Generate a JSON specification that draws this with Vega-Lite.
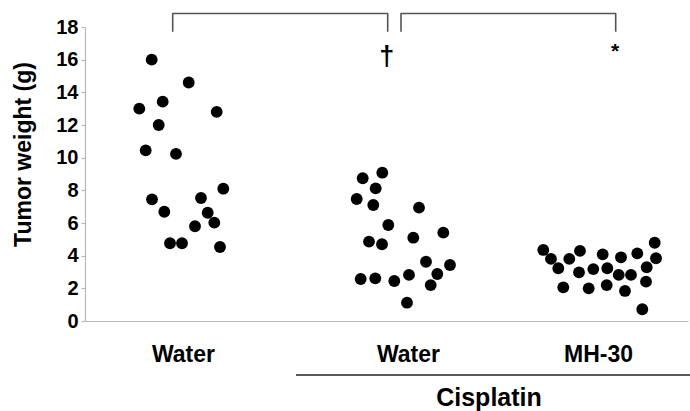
{
  "$schema": "https://vega.github.io/schema/vega-lite/v6.json",
  "width": 603,
  "height": 294,
  "autosize": {"type": "none"},
  "padding": {"left": 85, "top": 27, "right": 2, "bottom": 90},
  "background": "white",
  "config": {
    "view": {"stroke": null},
    "font": "Liberation Sans",
    "axis": {"grid": false, "labelOverlap": false, "labelFlush": false},
    "axisY": {"labelOverlap": false}
  },
  "datasets": {
    "points": [
      {"group": "Water", "x": 151.7, "weight": 16.0},
      {"group": "Water", "x": 188.7, "weight": 14.6},
      {"group": "Water", "x": 162.7, "weight": 13.43},
      {"group": "Water", "x": 139.3, "weight": 13.0},
      {"group": "Water", "x": 216.7, "weight": 12.8},
      {"group": "Water", "x": 158.7, "weight": 12.0},
      {"group": "Water", "x": 145.7, "weight": 10.45},
      {"group": "Water", "x": 176.0, "weight": 10.23},
      {"group": "Water", "x": 223.3, "weight": 8.1},
      {"group": "Water", "x": 152.0, "weight": 7.45},
      {"group": "Water", "x": 201.0, "weight": 7.53},
      {"group": "Water", "x": 164.3, "weight": 6.69},
      {"group": "Water", "x": 207.7, "weight": 6.63},
      {"group": "Water", "x": 214.3, "weight": 6.02},
      {"group": "Water", "x": 195.0, "weight": 5.8},
      {"group": "Water", "x": 170.0, "weight": 4.76},
      {"group": "Water", "x": 182.0, "weight": 4.76},
      {"group": "Water", "x": 220.0, "weight": 4.53},
      {"group": "Cisplatin + Water", "x": 362.7, "weight": 8.74},
      {"group": "Cisplatin + Water", "x": 382.3, "weight": 9.08},
      {"group": "Cisplatin + Water", "x": 375.7, "weight": 8.12},
      {"group": "Cisplatin + Water", "x": 356.7, "weight": 7.47},
      {"group": "Cisplatin + Water", "x": 373.3, "weight": 7.1},
      {"group": "Cisplatin + Water", "x": 419.0, "weight": 6.94},
      {"group": "Cisplatin + Water", "x": 388.3, "weight": 5.88},
      {"group": "Cisplatin + Water", "x": 443.3, "weight": 5.41},
      {"group": "Cisplatin + Water", "x": 369.0, "weight": 4.86},
      {"group": "Cisplatin + Water", "x": 382.0, "weight": 4.7},
      {"group": "Cisplatin + Water", "x": 413.3, "weight": 5.1},
      {"group": "Cisplatin + Water", "x": 426.0, "weight": 3.63},
      {"group": "Cisplatin + Water", "x": 450.0, "weight": 3.43},
      {"group": "Cisplatin + Water", "x": 437.3, "weight": 2.88},
      {"group": "Cisplatin + Water", "x": 409.0, "weight": 2.82},
      {"group": "Cisplatin + Water", "x": 360.7, "weight": 2.57},
      {"group": "Cisplatin + Water", "x": 375.3, "weight": 2.61},
      {"group": "Cisplatin + Water", "x": 394.3, "weight": 2.45},
      {"group": "Cisplatin + Water", "x": 430.7, "weight": 2.2},
      {"group": "Cisplatin + Water", "x": 407.0, "weight": 1.12},
      {"group": "Cisplatin + MH-30", "x": 543.3, "weight": 4.35},
      {"group": "Cisplatin + MH-30", "x": 551.0, "weight": 3.8},
      {"group": "Cisplatin + MH-30", "x": 558.3, "weight": 3.23},
      {"group": "Cisplatin + MH-30", "x": 569.3, "weight": 3.8},
      {"group": "Cisplatin + MH-30", "x": 580.0, "weight": 4.29},
      {"group": "Cisplatin + MH-30", "x": 563.3, "weight": 2.06},
      {"group": "Cisplatin + MH-30", "x": 579.0, "weight": 2.98},
      {"group": "Cisplatin + MH-30", "x": 593.3, "weight": 3.18},
      {"group": "Cisplatin + MH-30", "x": 602.7, "weight": 4.08},
      {"group": "Cisplatin + MH-30", "x": 588.7, "weight": 2.0},
      {"group": "Cisplatin + MH-30", "x": 607.3, "weight": 3.23},
      {"group": "Cisplatin + MH-30", "x": 606.7, "weight": 2.2},
      {"group": "Cisplatin + MH-30", "x": 621.0, "weight": 3.9},
      {"group": "Cisplatin + MH-30", "x": 618.7, "weight": 2.82},
      {"group": "Cisplatin + MH-30", "x": 631.0, "weight": 2.82},
      {"group": "Cisplatin + MH-30", "x": 625.0, "weight": 1.84},
      {"group": "Cisplatin + MH-30", "x": 637.3, "weight": 4.14},
      {"group": "Cisplatin + MH-30", "x": 646.7, "weight": 3.29},
      {"group": "Cisplatin + MH-30", "x": 646.0, "weight": 2.41},
      {"group": "Cisplatin + MH-30", "x": 654.7, "weight": 4.79},
      {"group": "Cisplatin + MH-30", "x": 656.0, "weight": 3.84},
      {"group": "Cisplatin + MH-30", "x": 642.3, "weight": 0.72}
    ],
    "brackets": [
      {"bracket": "A", "order": 1, "x": 172.7, "weight": 17.71},
      {"bracket": "A", "order": 2, "x": 172.7, "weight": 18.83},
      {"bracket": "A", "order": 3, "x": 387.7, "weight": 18.83},
      {"bracket": "A", "order": 4, "x": 387.7, "weight": 17.71},
      {"bracket": "B", "order": 1, "x": 401.0, "weight": 17.71},
      {"bracket": "B", "order": 2, "x": 401.0, "weight": 18.83},
      {"bracket": "B", "order": 3, "x": 615.7, "weight": 18.83},
      {"bracket": "B", "order": 4, "x": 615.7, "weight": 17.71}
    ],
    "signif": [
      {"label": "†", "x": 386.7, "weight": 16.15, "size": "big"},
      {"label": "*", "x": 615.0, "weight": 16.5, "size": "small"}
    ],
    "underline": [
      {"x": 296, "x2": 690, "weight": -3.31}
    ],
    "treatment": [
      {"label": "Cisplatin", "x": 489, "weight": -4.72}
    ]
  },
  "encoding": {
    "x": {
      "field": "x", "type": "quantitative",
      "scale": {"domain": [85, 688], "nice": false, "zero": false},
      "axis": {
        "values": [183, 408, 598],
        "labelExpr": "datum.value == 598 ? 'MH-30' : 'Water'",
        "ticks": false, "title": null,
        "domainColor": "#b8b8b8", "domainWidth": 1.2,
        "labelFontSize": 23, "labelFontWeight": "bold", "labelColor": "black",
        "labelPadding": 22, "labelFont": "Liberation Sans", "labelOverlap": false, "labelFlush": false
      }
    },
    "y": {
      "field": "weight", "type": "quantitative",
      "scale": {"domain": [0, 18], "nice": false, "zero": false},
      "axis": {
        "values": [0, 2, 4, 6, 8, 10, 12, 14, 16, 18],
        "tickCount": 10,
        "title": "Tumor weight (g)",
        "titleFontSize": 23, "titleFontWeight": "bold", "titleColor": "black", "titleFont": "Liberation Sans",
        "titleX": -62, "titleY": 127, "titleAngle": -90, "titleAlign": "center", "titleBaseline": "middle",
        "domainColor": "#b8b8b8", "domainWidth": 1.2,
        "tickColor": "#b8b8b8", "tickSize": 4, "tickWidth": 1.2,
        "labelFontSize": 20, "labelFontWeight": "bold", "labelColor": "black",
        "labelPadding": 3, "labelFont": "Liberation Sans", "labelOverlap": false, "labelFlush": false
      }
    }
  },
  "layer": [
    {
      "data": {"name": "points"},
      "mark": {"type": "circle", "size": 140, "opacity": 1, "color": "black"}
    },
    {
      "data": {"name": "brackets"},
      "mark": {"type": "line", "color": "#555555", "strokeWidth": 1.6, "strokeJoin": "round"},
      "encoding": {
        "detail": {"field": "bracket"},
        "order": {"field": "order"}
      }
    },
    {
      "data": {"name": "signif"},
      "mark": {"type": "text", "fontWeight": "bold", "color": "black", "font": "Liberation Sans", "baseline": "middle", "align": "center"},
      "encoding": {
        "text": {"field": "label"},
        "size": {"field": "size", "type": "nominal", "scale": {"domain": ["big", "small"], "range": [27, 21]}, "legend": null}
      }
    },
    {
      "data": {"name": "underline"},
      "mark": {"type": "rule", "color": "#222222", "strokeWidth": 1.5},
      "encoding": {
        "x2": {"field": "x2"}
      }
    },
    {
      "data": {"name": "treatment"},
      "mark": {"type": "text", "fontSize": 25, "fontWeight": "bold", "color": "black", "font": "Liberation Sans", "baseline": "middle", "align": "center"},
      "encoding": {
        "text": {"field": "label"}
      }
    }
  ]
}
